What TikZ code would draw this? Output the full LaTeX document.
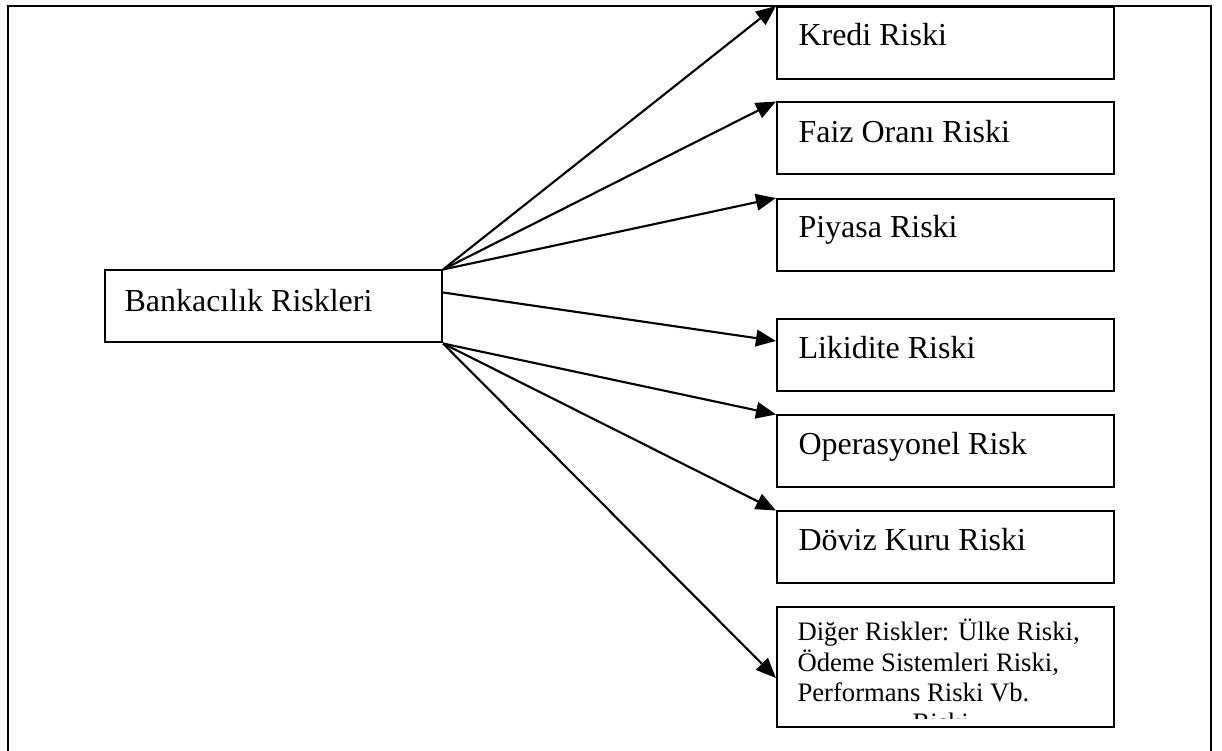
\documentclass[tikz,border=0pt]{standalone}
\usepackage{fontspec}
\setmainfont{Liberation Serif}
\usetikzlibrary{arrows.meta,calc}

\begin{document}
\begin{tikzpicture}[x=0.375pt,y=-0.375pt,
  riskbox/.style={draw,line width=0.75pt,minimum width=126.4pt,minimum height=27pt,inner sep=0pt},
  boxtext/.style={anchor=base west,inner sep=0pt,font=\fontsize{12pt}{14pt}\selectfont},
  smalltext/.style={anchor=base west,inner sep=0pt,font=\fontsize{10pt}{12pt}\selectfont},
  link/.style={line width=0.8pt,-{Triangle[length=7.5pt,width=6.2pt]}}]

  \useasboundingbox (0,0) rectangle (1222,751);

  % open frame around the chart
  \draw[line width=0.9pt] (8,751) -- (8,6) -- (1211,6) -- (1211,751);

  % root box
  \node[riskbox] (main) at (273.5,306.5) {};
  \node[boxtext] (mainT) at ($(main.north west)+(20,42)$) {Bankacılık Riskleri};

  % risk categories
  \node[riskbox] (kredi)  at (945.5,43) {};
  \node[riskbox] (faiz)   at (945.5,138.5) {};
  \node[riskbox] (piyasa) at (945.5,235) {};
  \node[riskbox] (likit)  at (945.5,355) {};
  \node[riskbox] (opr)    at (945.5,451.5) {};
  \node[riskbox] (doviz)  at (945.5,547.5) {};
  \node[riskbox,minimum height=45pt] (diger) at (945.5,667) {};

  \node[boxtext] (krediT)  at ($(kredi.north west)+(22,40)$)  {Kredi Riski};
  \node[boxtext] (faizT)   at ($(faiz.north west)+(22,41)$)   {Faiz Oranı Riski};
  \node[boxtext] (piyasaT) at ($(piyasa.north west)+(22,40)$) {Piyasa Riski};
  \node[boxtext] (likitT)  at ($(likit.north west)+(22,41)$)  {Likidite Riski};
  \node[boxtext] (oprT)    at ($(opr.north west)+(22,40)$)   {Operasyonel Risk};
  \node[boxtext] (dovizT)  at ($(doviz.north west)+(22,40)$)  {Döviz Kuru Riski};

  \node[smalltext] (digerA) at ($(diger.north west)+(21,35)$) {Diğer Riskler: Ülke Riski,};
  \node[smalltext] (digerB) at ($(diger.north west)+(21,66)$) {Ödeme Sistemleri Riski,};
  \node[smalltext] (digerC) at ($(diger.north west)+(21,96)$) {Performans Riski Vb.};
  % overflowing last line, cut off by the text area
  \begin{scope}
    \clip (780,712) rectangle (1110,719);
    \node[smalltext] (digerD) at ($(diger.north west)+(136,126)$) {Riski};
  \end{scope}

  % connectors
  \draw[link] (main.north east) -- (kredi.north west);
  \draw[link] (main.north east) -- (faiz.north west);
  \draw[link] (main.north east) -- (piyasa.north west);
  \draw[link] ($(main.north east)+(0,23)$) -- ($(likit.north west)+(0,23)$);
  \draw[link] (main.south east) -- (opr.north west);
  \draw[link] (main.south east) -- (doviz.north west);
  \draw[link] (main.south east) -- ($(diger.north west)+(0,72)$);
\end{tikzpicture}
\end{document}
